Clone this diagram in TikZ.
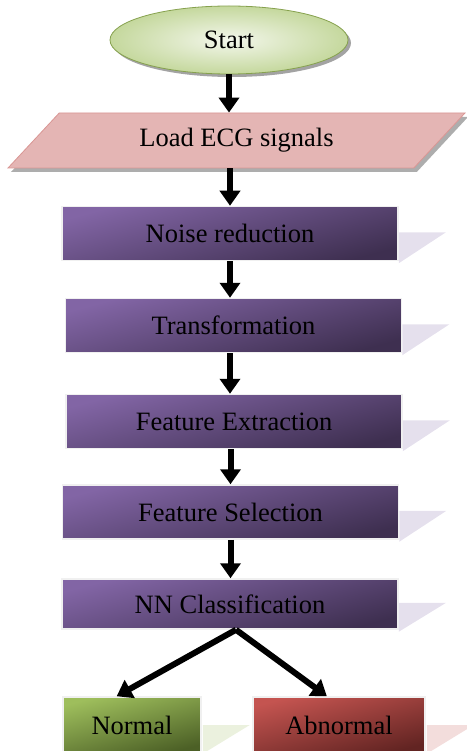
\documentclass[tikz,border=0pt]{standalone}
\usepackage{fontspec}
\setmainfont{Liberation Serif}
\usetikzlibrary{arrows.meta,calc,shapes.geometric,shadows,positioning}

\definecolor{violetA}{RGB}{130,101,165}
\definecolor{violetB}{RGB}{62,47,80}
\definecolor{lavender}{RGB}{229,224,237}
\definecolor{greenA}{RGB}{158,190,92}
\definecolor{greenB}{RGB}{76,96,38}
\definecolor{greenL}{RGB}{235,241,222}
\definecolor{redA}{RGB}{196,84,80}
\definecolor{redB}{RGB}{98,36,34}
\definecolor{redL}{RGB}{243,221,220}
\definecolor{pinkA}{RGB}{217,150,148}
\definecolor{pinkB}{RGB}{246,230,229}

\begin{document}
\begin{tikzpicture}[
  x=1pt, y=-1pt,
  > = {Triangle[width=20pt,length=15pt]},
  every node/.style = {font=\fontsize{26.5}{30}\selectfont, text=black},
  startnode/.style = {ellipse, draw=greenA!85!black, line width=0.8pt,
    inner color=greenL!60, outer color=greenA!60,
    minimum width=238pt, minimum height=68pt,
    drop shadow={shadow xshift=3pt, shadow yshift=-3pt, fill=black!45, opacity=0.8}},
  inputnode/.style = {trapezium, trapezium left angle=31, trapezium right angle=149,
    trapezium stretches body, draw=pinkA, line width=0.8pt,
    top color=pinkA!70!white, middle color=pinkB, bottom color=pinkA!70!white,
    minimum width=457pt, minimum height=55pt,
    drop shadow={shadow xshift=3pt, shadow yshift=-4pt, fill=black!40, opacity=0.8}},
  procbox/.style = {rectangle, draw=black!6, line width=1.5pt,
    top color=violetA, bottom color=violetB, shading angle=15,
    minimum width=336pt, minimum height=54pt},
  resultbox/.style = {rectangle, draw=black!6, line width=1.5pt,
    minimum height=56pt},
  flow/.style = {->, line width=6pt}
  ]
	\useasboundingbox (0,0) rectangle (466,751);

	\node[startnode] (start) at (229,40) {Start};
	\node[inputnode] (load) at (236.5,140.5) {Load ECG signals};

	\node[procbox] (noise) at (230,233.5) {Noise reduction};
	\node[procbox] (trans) at (233.5,325.5) {Transformation};
	\node[procbox] (extract) at (234,421.5) {Feature Extraction};
	\node[procbox] (select) at (230.5,512) {Feature Selection};
	\node[procbox, minimum height=50pt] (classify) at (230,604) {NN Classification};

	\node[resultbox, minimum width=138pt, top color=greenA, bottom color=greenB, shading angle=15]
		(normal) at (132,725) {Normal};
	\node[resultbox, minimum width=172pt, top color=redA, bottom color=redB, shading angle=15]
		(abnormal) at (339,725) {Abnormal};

	% side shades
	\foreach \b in {noise,trans,extract,select,classify}
		\fill[lavender] ($(\b.north east)!0.48!(\b.south east)$) -- ++(47,0) -- ($(\b.south east)+(0,2)$) -- cycle;
	\fill[greenL] ($(normal.east)+(1,0)$) -- ++(47,0) -- ($(normal.south east)+(1,0)$) -- cycle;
	\fill[redL] ($(abnormal.east)+(1,0)$) -- ++(47,0) -- ($(abnormal.south east)+(1,0)$) -- cycle;

	\draw[flow] (start.south) -- (start.south |- load.north);
	\draw[flow] (load.south -| noise.north) -- (noise.north);
	\draw[flow] (noise.south) -- (noise.south |- trans.north);
	\draw[flow] (trans.south -| noise.south) -- (noise.south |- extract.north);
	\draw[flow] (extract.south -| select.north) -- (select.north);
	\draw[flow] (select.south) -- (select.south |- classify.north);

	\coordinate (split) at ($(classify.south)+(6,0)$);
	\draw[flow] (split) -- ($(normal.north west)!0.39!(normal.north east)$);
	\draw[flow] (split) -- ($(abnormal.north west)!0.43!(abnormal.north east)$);

\end{tikzpicture}
\end{document}
